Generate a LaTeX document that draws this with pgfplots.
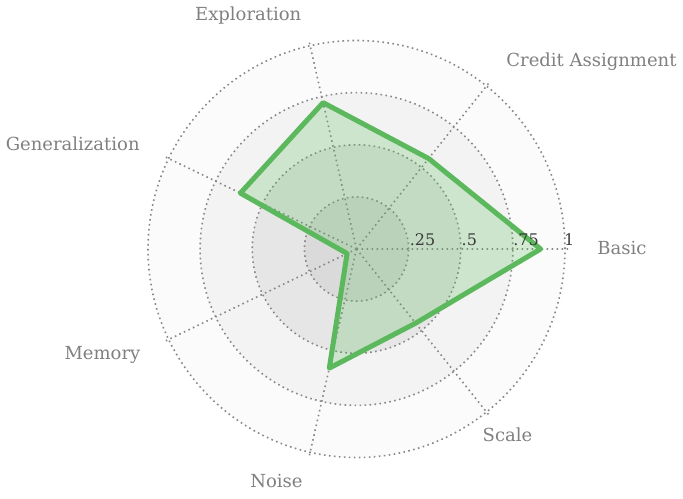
\documentclass[border=0pt]{standalone}
\usepackage{fontspec}
\setmainfont{DejaVu Serif}
\usepackage{pgfplots}
\pgfplotsset{compat=1.18}
\usepgfplotslibrary{polar}
\usetikzlibrary{calc,backgrounds}

\definecolor{ring1}{HTML}{FBFBFB}
\definecolor{ring2}{HTML}{F3F3F3}
\definecolor{ring3}{HTML}{E6E6E6}
\definecolor{ring4}{HTML}{DADADA}
\definecolor{radgreen}{HTML}{5CB85C}
\definecolor{labgray}{HTML}{808080}
\definecolor{tickgray}{HTML}{3C3C3C}
\definecolor{gridgray}{HTML}{888888}

\begin{document}
\begin{tikzpicture}
\begin{polaraxis}[
  scale only axis, width=214.755pt, height=214.755pt,
  xmin=0, xmax=360, ymin=0, ymax=1.03,
  xtick={0,51.4286,102.857,154.286,205.714,257.143,308.571},
  ytick={0.25,0.5,0.75,1},
  xticklabels={}, yticklabels={},
  major tick length=0pt,
  axis line style={draw=none},
  grid=major,
  major grid style={gridgray, line width=0.8pt, dash pattern=on 0.8pt off 1.7pt},
]
\coordinate (O) at (axis cs:0,0);
\coordinate (R1) at (axis cs:0,1);
% Basic, Credit Assignment, Exploration, Generalization, Memory, Noise, Scale
\addplot[radgreen, line width=2.5pt, line join=round,
  fill=radgreen, fill opacity=0.25] coordinates {
  (0,0.883) (51.4286,0.555) (102.857,0.72) (154.286,0.618)
  (205.714,0.05) (257.143,0.586) (308.571,0.455)
} -- cycle;
\end{polaraxis}

\begin{scope}[on background layer]
  \fill[ring1] let \p1=($(R1)-(O)$), \n1={veclen(\x1,\y1)} in (O) circle (\n1);
  \fill[ring2] let \p1=($(R1)-(O)$), \n1={0.75*veclen(\x1,\y1)} in (O) circle (\n1);
  \fill[ring3] let \p1=($(R1)-(O)$), \n1={0.5*veclen(\x1,\y1)} in (O) circle (\n1);
  \fill[ring4] let \p1=($(R1)-(O)$), \n1={0.25*veclen(\x1,\y1)} in (O) circle (\n1);
\end{scope}

\begin{scope}[every node/.style={inner sep=0pt, anchor=base west,
    font=\fontsize{8}{9}\selectfont, text=tickgray}]
  \node at ($(O)+(26.5pt,2pt)$) {.25};
  \node at ($(O)+(52.4pt,2pt)$) {.5};
  \node at ($(O)+(78.2pt,2pt)$) {.75};
  \node at ($(O)+(103.6pt,2pt)$) {1};
\end{scope}

\begin{scope}[every node/.style={inner sep=0pt,
    font=\fontsize{9}{10.5}\selectfont, text=labgray}]
  \node[anchor=base west] at ($(O)+(120.25pt,-2.5pt)$) {Basic};
  \node[anchor=base west] at ($(O)+(74.75pt,91pt)$) {Credit Assignment};
  \node[anchor=base east] at ($(O)+(-27.4pt,114.15pt)$) {Exploration};
  \node[anchor=base east] at ($(O)+(-108.25pt,49pt)$) {Generalization};
  \node[anchor=base east] at ($(O)+(-107.9pt,-55.15pt)$) {Memory};
  \node[anchor=base east] at ($(O)+(-26.75pt,-119pt)$) {Noise};
  \node[anchor=base west] at ($(O)+(62.9pt,-96pt)$) {Scale};
\end{scope}

\pgfresetboundingbox
\path[use as bounding box] ($(O)+(-178.25pt,-124.5pt)$) rectangle ($(O)+(163.25pt,124.5pt)$);
\end{tikzpicture}
\end{document}
